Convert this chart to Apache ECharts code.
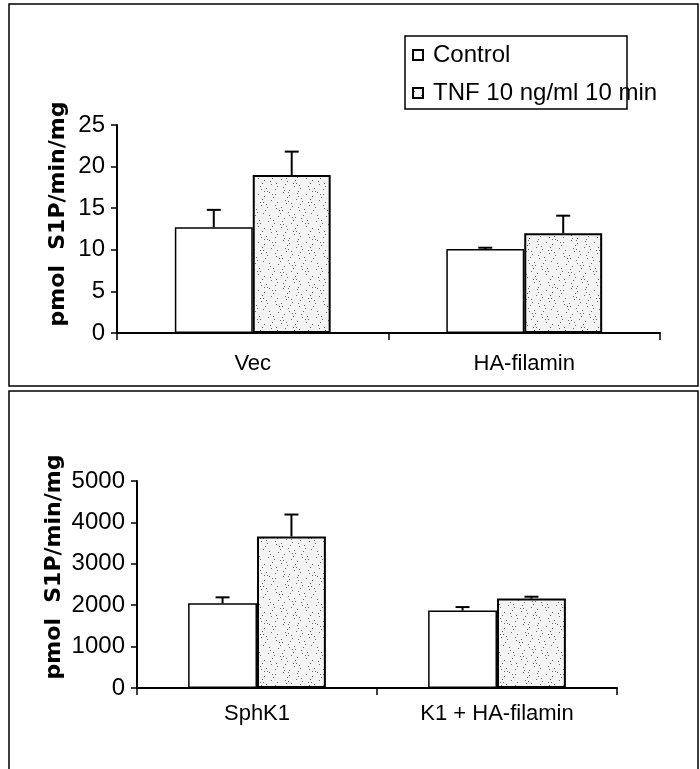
<!DOCTYPE html>
<html><head><meta charset="utf-8">
<script src="https://cdn.jsdelivr.net/npm/echarts@6/dist/echarts.min.js"></script>
<style>html,body{margin:0;padding:0;background:#fff}#c{width:700px;height:769px}</style>
</head><body><div id="c"></div>
<script>
// ---- data ----
const seriesNames = ['Control', 'TNF 10 ng/ml 10 min'];
const topCategories = ['Vec', 'HA-filamin'];
const topControl = [12.7, 10.1];
const topControlErr = [2.1, 0.15];
const topTNF = [19.0, 12.0];
const topTNFErr = [2.8, 2.1];
const topTicks = [0, 5, 10, 15, 20, 25];
const bottomCategories = ['SphK1', 'K1 + HA-filamin'];
const bottomControl = [2045, 1870];
const bottomControlErr = [145, 85];
const bottomTNF = [3660, 2160];
const bottomTNFErr = [530, 45];
const bottomTicks = [0, 1000, 2000, 3000, 4000, 5000];
const yTitle = 'pmol  S1P/min/mg';

// ---- style helpers ----
const BAR_RATIO = 0.287;
const FONT = '"Liberation Sans", Arial, sans-serif';

function makeStipple() {
  const c = document.createElement('canvas');
  c.width = 48; c.height = 48;
  const g = c.getContext('2d');
  g.fillStyle = '#f4f4f4';
  g.fillRect(0, 0, 48, 48);
  g.fillStyle = '#6a6a6a';
  for (let i = 0; i < 48 * 48; i++) {
    const h = (i * 2654435761) >>> 0;
    if ((h % 1000) < 40) {
      g.fillRect(i % 48, Math.floor(i / 48), 1, 1);
    }
  }
  return c;
}
const stipple = { image: makeStipple(), repeat: 'repeat' };

function errRender(sign) {
  return function (params, api) {
    const x = api.value(0), v = api.value(1), e = api.value(2);
    const p0 = api.coord([x, v]);
    const p1 = api.coord([x, v + e]);
    const band = api.size([1, 0])[0];
    const cx = p0[0] + sign * band * BAR_RATIO / 2;
    const half = 7;
    return {
      type: 'group',
      children: [
        { type: 'line', shape: { x1: cx, y1: p0[1], x2: cx, y2: p1[1] }, style: { stroke: '#000', lineWidth: 2 } },
        { type: 'line', shape: { x1: cx - half, y1: p1[1], x2: cx + half, y2: p1[1] }, style: { stroke: '#000', lineWidth: 2 } }
      ]
    };
  };
}

function xAxisFor(cats, gridIndex, margin) {
  return {
    type: 'category', gridIndex: gridIndex, data: cats,
    axisLine: { lineStyle: { color: '#000', width: 2 } },
    axisTick: { show: true, length: 7, lineStyle: { color: '#000', width: 1.5 } },
    axisLabel: { color: '#000', fontSize: 22, fontFamily: FONT, margin: margin },
    splitLine: { show: false }
  };
}
function yAxisFor(ticks, gridIndex) {
  return {
    type: 'value', gridIndex: gridIndex,
    min: ticks[0], max: ticks[ticks.length - 1], interval: ticks[1] - ticks[0],
    axisLine: { show: true, lineStyle: { color: '#000', width: 2 } },
    axisTick: { show: true, length: 6, lineStyle: { color: '#000', width: 1.5 } },
    axisLabel: { color: '#000', fontSize: 24, fontFamily: FONT, margin: 12, formatter: function (v) { return String(v); } },
    splitLine: { show: false }
  };
}
function toErr(vals, errs) { return vals.map((v, i) => [i, v, errs[i]]); }

const controlStyle = { color: '#fff', borderColor: '#000', borderWidth: 1.5 };
const tnfStyle = { color: stipple, borderColor: '#000', borderWidth: 2 };

const option = {
  animation: false,
  backgroundColor: '#fff',
  grid: [
    { left: 117, right: 40, top: 125, bottom: 436 },
    { left: 137, right: 83, top: 481, bottom: 81 }
  ],
  legend: {
    data: seriesNames,
    orient: 'vertical', left: 412, top: 43, padding: 0,
    itemWidth: 10, itemHeight: 10, itemGap: 14,
    icon: 'rect',
    selectedMode: false,
    textStyle: { color: '#000', fontSize: 24, fontFamily: FONT, padding: [0, 0, 0, 5] }
  },
  xAxis: [xAxisFor(topCategories, 0, 20), xAxisFor(bottomCategories, 1, 15)],
  yAxis: [yAxisFor(topTicks, 0), yAxisFor(bottomTicks, 1)],
  series: [
    { name: seriesNames[0], type: 'bar', xAxisIndex: 0, yAxisIndex: 0, data: topControl, barWidth: (BAR_RATIO * 100) + '%', barGap: '0%', itemStyle: controlStyle },
    { name: seriesNames[1], type: 'bar', xAxisIndex: 0, yAxisIndex: 0, data: topTNF, barWidth: (BAR_RATIO * 100) + '%', barGap: '0%', itemStyle: tnfStyle },
    { name: seriesNames[0], type: 'bar', xAxisIndex: 1, yAxisIndex: 1, data: bottomControl, barWidth: (BAR_RATIO * 100) + '%', barGap: '0%', itemStyle: controlStyle },
    { name: seriesNames[1], type: 'bar', xAxisIndex: 1, yAxisIndex: 1, data: bottomTNF, barWidth: (BAR_RATIO * 100) + '%', barGap: '0%', itemStyle: tnfStyle },
    { type: 'custom', xAxisIndex: 0, yAxisIndex: 0, data: toErr(topControl, topControlErr), renderItem: errRender(-1), z: 5 },
    { type: 'custom', xAxisIndex: 0, yAxisIndex: 0, data: toErr(topTNF, topTNFErr), renderItem: errRender(1), z: 5 },
    { type: 'custom', xAxisIndex: 1, yAxisIndex: 1, data: toErr(bottomControl, bottomControlErr), renderItem: errRender(-1), z: 5 },
    { type: 'custom', xAxisIndex: 1, yAxisIndex: 1, data: toErr(bottomTNF, bottomTNFErr), renderItem: errRender(1), z: 5 }
  ],
  graphic: [
    { type: 'rect', shape: { x: 9, y: 4, width: 689, height: 382 }, style: { fill: 'none', stroke: '#000', lineWidth: 1.5 }, z: 0 },
    { type: 'rect', shape: { x: 9, y: 391, width: 689, height: 400 }, style: { fill: 'none', stroke: '#000', lineWidth: 1.5 }, z: 0 },
    { type: 'rect', shape: { x: 405, y: 36, width: 222, height: 73 }, style: { fill: 'none', stroke: '#000', lineWidth: 1.5 }, z: 0 },
    { type: 'text', x: 58, y: 214, rotation: Math.PI / 2, style: { text: yTitle, font: 'bold 22px "DejaVu Sans", sans-serif', fill: '#000', align: 'center', verticalAlign: 'middle' } },
    { type: 'text', x: 54, y: 567, rotation: Math.PI / 2, style: { text: yTitle, font: 'bold 22px "DejaVu Sans", sans-serif', fill: '#000', align: 'center', verticalAlign: 'middle' } }
  ]
};
const chart = echarts.init(document.getElementById('c'), null, { renderer: 'canvas' });
chart.setOption(option);
</script>
</body></html>
